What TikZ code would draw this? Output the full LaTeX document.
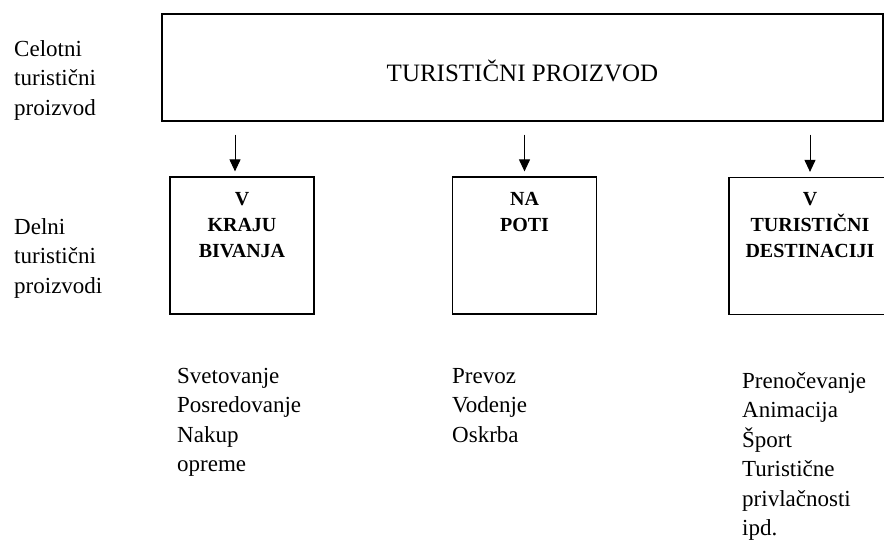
\documentclass[tikz,border=0pt]{standalone}
\usepackage{fontspec}
\setmainfont{Liberation Serif}
\usetikzlibrary{positioning,arrows.meta}

\begin{document}
\begin{tikzpicture}
        [
        x=1pt, y=-1pt,
        every node/.style={inner sep=0pt},
        textblock/.style={anchor=north west, align=left, font=\fontsize{23}{29.5}\selectfont},
        partbox/.style={draw, line width=1.2pt, minimum width=144pt, minimum height=137pt},
        parttitle/.style={align=center, font=\fontsize{20}{26}\selectfont\bfseries},
        arr/.style={-{Triangle[width=11pt,length=12pt]}, line width=1pt, shorten <=13pt, shorten >=5pt},
        ]
        \path[use as bounding box] (0,0) rectangle (884,546);
        \clip (0,0) rectangle (884,546);
	    \node[draw, line width=1.2pt, minimum width=721pt, minimum height=107pt, text height=29pt,
		    font=\fontsize{25}{30}\selectfont] (celoten) at (522.5,67.5) {TURISTIČNI PROIZVOD};
		\node[textblock] (celotenlbl) at (14,40) {Celotni\\turistični\\proizvod};
		\node[textblock] (delnilbl) at (14,218) {Delni\\turistični\\proizvodi};

		\node[partbox] (kraj) at (242,245.5) {};
		\node[partbox] (pot) at (524.5,245.5) {};
		\node[partbox, minimum width=162pt] (destinacija) at (810,246) {};

		\node[parttitle, below=16pt of kraj.north] (krajtitle) {V\\KRAJU\\BIVANJA};
		\node[parttitle, below=16pt of pot.north] (pottitle) {NA\\POTI};
		\node[parttitle, below=15pt of destinacija.north] (desttitle) {V\\TURISTIČNI\\DESTINACIJI};

		\draw[arr] ([xshift=-7pt]celoten.south -| kraj.north) -- ([xshift=-7pt]kraj.north);
		\draw[arr] (celoten.south -| pot.north) -- (pot.north);
		\draw[arr] (celoten.south -| destinacija.north) -- (destinacija.north);

		\node[textblock] (krajlist) at (177,368) {Svetovanje\\Posredovanje\\Nakup\\opreme};
		\node[textblock] (potlist) at (452,368) {Prevoz\\Vodenje\\Oskrba};
		\node[textblock] (destlist) at (742,372) {Prenočevanje\\Animacija\\Šport\\Turistične\\privlačnosti\\ipd.};
        \end{tikzpicture}
\end{document}
